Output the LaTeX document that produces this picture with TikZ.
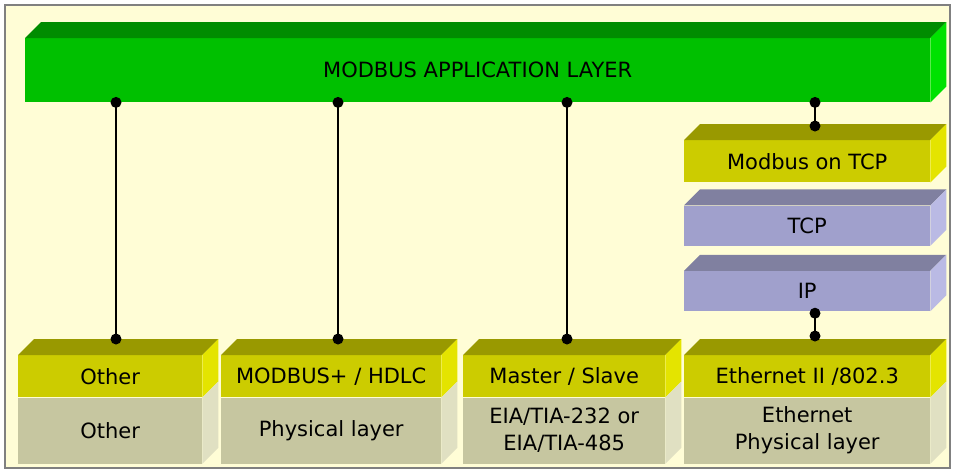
\documentclass[tikz,border=0pt]{standalone}
\usepackage{fontspec}
\setmainfont{DejaVu Sans}
\usepackage{tikz}
\usetikzlibrary{positioning,calc}
\definecolor{modbg}{RGB}{255,253,214}
\definecolor{appfront}{RGB}{0,192,0}
\definecolor{apptop}{RGB}{0,140,0}
\definecolor{appside}{RGB}{0,226,0}
\definecolor{linkfront}{RGB}{204,204,0}
\definecolor{linktop}{RGB}{153,153,0}
\definecolor{linkside}{RGB}{228,228,0}
\definecolor{phyfront}{RGB}{198,198,160}
\definecolor{physide}{RGB}{224,224,194}
\definecolor{netfront}{RGB}{160,160,204}
\definecolor{nettop}{RGB}{128,128,160}
\definecolor{netside}{RGB}{186,186,228}

\begin{document}
\begin{tikzpicture}[x=1pt,y=-1pt,
  layer/.style={rectangle,inner sep=0pt,anchor=north west,align=center,
                font=\fontsize{21}{27}\selectfont},
  link/.style={line width=2.6pt},
  frame/.style={draw=gray,line width=1.2pt,fill=modbg}
]
\useasboundingbox (0,0) rectangle (956,475);
\draw[frame] (5,5) rectangle (950,468);

% Application layer
\node[layer,fill=appfront,minimum width=905pt,minimum height=64pt] (app) at (25,38) {MODBUS APPLICATION LAYER};

% TCP/IP
\node[layer,fill=linkfront,minimum width=246pt,minimum height=42pt] (mtcp) at (684,140) {Modbus on TCP};
\node[layer,fill=netfront,minimum width=246pt,minimum height=40pt,below=23pt of mtcp] (tcp) {TCP};
\node[layer,fill=netfront,minimum width=246pt,minimum height=40pt,below=25pt of tcp] (ip) {IP};

% Liaison + physique
\node[layer,fill=linkfront,minimum width=184pt,minimum height=42pt] (oth) at (18,355) {Other};
\node[layer,fill=phyfront,minimum width=184pt,minimum height=66pt,below=0pt of oth] (othphy) {Other};
\node[layer,fill=linkfront,minimum width=220pt,minimum height=42pt] (hdlc) at (221,355) {MODBUS+ / HDLC};
\node[layer,fill=phyfront,minimum width=220pt,minimum height=66pt,below=0pt of hdlc] (hdlcphy) {Physical layer};
\node[layer,fill=linkfront,minimum width=202pt,minimum height=42pt] (ms) at (463,355) {Master / Slave};
\node[layer,fill=phyfront,minimum width=202pt,minimum height=66pt,below=0pt of ms] (msphy) {EIA/TIA-232 or\\EIA/TIA-485};
\node[layer,fill=linkfront,minimum width=246pt,minimum height=42pt] (eth) at (684,355) {Ethernet II /802.3};
\node[layer,fill=phyfront,minimum width=246pt,minimum height=66pt,below=0pt of eth] (ethphy) {Ethernet\\Physical layer};

% faces 3D
\foreach \n/\c in {app/apptop,mtcp/linktop,tcp/nettop,ip/nettop,oth/linktop,hdlc/linktop,ms/linktop,eth/linktop}
  \fill[\c] (\n.north west) -- ++(16,-16) -- ([shift={(16,-16)}]\n.north east) -- (\n.north east) -- cycle;
\foreach \n/\c in {app/appside,mtcp/linkside,tcp/netside,ip/netside,oth/linkside,othphy/physide,hdlc/linkside,hdlcphy/physide,ms/linkside,msphy/physide,eth/linkside,ethphy/physide}
  \fill[\c] (\n.north east) -- ++(16,-16) -- ([shift={(16,-16)}]\n.south east) -- (\n.south east) -- cycle;

% liens
\coordinate (d1) at (116,339);
\coordinate (d2) at (338,339);
\coordinate (d3) at (567,339);
\coordinate (d4) at (815,336);
\coordinate (dt) at (815,126);
\coordinate (a1) at (app.south -| d1);
\coordinate (a2) at (app.south -| d2);
\coordinate (a3) at (app.south -| d3);
\coordinate (at) at (app.south -| dt);
\coordinate (di) at ([yshift=-2pt]ip.south -| d4);
\draw[link] (a1) -- (d1);
\draw[link] (a2) -- (d2);
\draw[link] (a3) -- (d3);
\draw[link] (at) -- (dt);
\draw[link] (di) -- (d4);
\foreach \p in {a1,a2,a3,at,d1,d2,d3,dt,di,d4}
  \fill (\p) circle[radius=5.5pt];
\end{tikzpicture}
\end{document}
